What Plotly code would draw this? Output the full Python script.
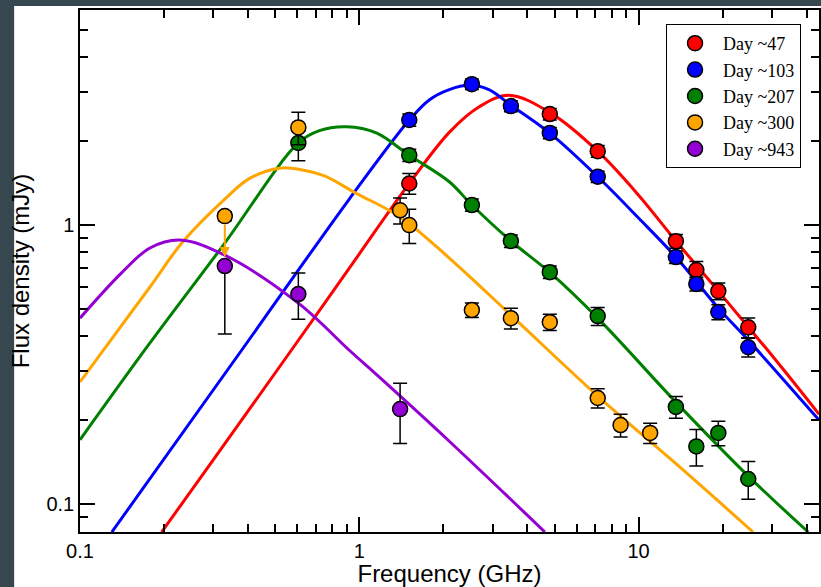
import math
import plotly.graph_objects as go

# ---------------- data ----------------
labels = ["Day ~47", "Day ~103", "Day ~207", "Day ~300", "Day ~943"]
colors = ["#ff0000", "#0000ff", "#008000", "#ffa500", "#9400d3"]

# measured points (GHz, mJy, error mJy)
freq47 = [1.51, 4.81, 7.14, 13.6, 16.1, 19.3, 24.7]
flux47 = [1.41, 2.50, 1.84, 0.876, 0.69, 0.58, 0.43]
err47 = [0.12, 0.12, 0.09, 0.05, 0.05, 0.04, 0.035]

freq103 = [1.51, 2.53, 3.49, 4.81, 7.14, 13.6, 16.1, 19.3, 24.7]
flux103 = [2.38, 3.20, 2.67, 2.14, 1.49, 0.768, 0.615, 0.488, 0.365]
err103 = [0.12, 0.14, 0.12, 0.10, 0.07, 0.04, 0.035, 0.03, 0.028]

freq207 = [0.605, 1.51, 2.53, 3.49, 4.81, 7.14, 13.6, 16.1, 19.3, 24.7]
flux207 = [1.97, 1.78, 1.18, 0.877, 0.678, 0.472, 0.223, 0.161, 0.18, 0.123]
err207 = [0.27, 0.09, 0.06, 0.045, 0.035, 0.035, 0.02, 0.024, 0.018, 0.019]

freq300 = [0.33, 0.605, 1.40, 1.51, 2.53, 3.49, 4.81, 7.14, 8.62, 11.0]
flux300 = [1.077, 2.24, 1.13, 1.0, 0.496, 0.464, 0.449, 0.24, 0.192, 0.18]
err300 = [0.04, 0.30, 0.12, 0.14, 0.03, 0.04, 0.03, 0.019, 0.018, 0.015]

freq943 = [0.33, 0.605, 1.40]
flux943 = [0.713, 0.566, 0.219]
errp943 = [0.0, 0.107, 0.052]
errm943 = [0.306, 0.106, 0.054]

# model curves
cfreq47 = [0.196, 0.30, 0.571, 0.921, 1.51, 2.10, 2.68, 3.43, 4.85, 7.14, 10.0, 13.6, 19.3, 24.7, 30.4, 44.3]
cflux47 = [0.0794, 0.144, 0.356, 0.701, 1.41, 2.15, 2.65, 2.92, 2.52, 1.84, 1.28, 0.877, 0.580, 0.431, 0.336, 0.21]

cfreq103 = [0.130, 0.379, 0.921, 1.51, 1.78, 2.10, 2.47, 2.91, 3.49, 4.8, 7.14, 10.0, 13.6, 19.3, 24.7, 44.3]
cflux103 = [0.0794, 0.356, 1.24, 2.38, 2.81, 3.06, 3.17, 3.06, 2.69, 2.14, 1.49, 1.06, 0.768, 0.504, 0.387, 0.20]

cfreq207 = [0.1, 0.178, 0.324, 0.605, 0.72, 0.90, 1.15, 1.51, 2.10, 2.53, 3.49, 4.8, 7.14, 13.6, 24.7, 40.5]
cflux207 = [0.170, 0.378, 0.841, 1.97, 2.18, 2.25, 2.14, 1.78, 1.43, 1.18, 0.877, 0.678, 0.464, 0.232, 0.126, 0.0794]

cfreq300 = [0.1, 0.178, 0.233, 0.33, 0.405, 0.518, 0.62, 0.75, 0.975, 1.40, 2.10, 3.49, 7.14, 13.9, 25.7]
cflux300 = [0.274, 0.60, 0.87, 1.24, 1.47, 1.60, 1.58, 1.50, 1.30, 1.07, 0.762, 0.476, 0.244, 0.137, 0.0794]

cfreq943 = [0.1, 0.14, 0.178, 0.228, 0.33, 0.605, 0.921, 1.18, 2.10, 4.62]
cflux943 = [0.464, 0.67, 0.828, 0.884, 0.78, 0.525, 0.356, 0.285, 0.168, 0.0794]

# upper-limit style arrow on the Day ~300 point at 0.33 GHz
arrow_freq = 0.33
arrow_from = 1.077
arrow_to = 0.768

x_major = [0.1, 1, 10]
x_major_text = ["0.1", "1", "10"]
x_minor = [0.2, 0.3, 0.4, 0.5, 0.6, 0.7, 0.8, 0.9, 2, 3, 4, 5, 6, 7, 8, 9, 20, 30, 40]
y_major = [0.1, 1]
y_major_text = ["0.1", "1"]
y_minor = [0.08, 0.09, 0.2, 0.3, 0.4, 0.5, 0.6, 0.7, 0.8, 0.9, 2, 3, 4, 5, 6]

# ---------------- figure ----------------
points = [
    (freq47, flux47, err47, err47),
    (freq103, flux103, err103, err103),
    (freq207, flux207, err207, err207),
    (freq300, flux300, err300, err300),
    (freq943, flux943, errp943, errm943),
]
curves = [
    (cfreq47, cflux47), (cfreq103, cflux103), (cfreq207, cflux207),
    (cfreq300, cflux300), (cfreq943, cflux943),
]

fig = go.Figure()
for (cx, cy), col in zip(curves, colors):
    fig.add_trace(go.Scatter(x=cx, y=cy, mode="lines",
                             line=dict(color=col, width=3, shape="spline", smoothing=1.0),
                             showlegend=False, hoverinfo="skip"))

for (px, py, ep, em), col, lab in zip(points, colors, labels):
    fig.add_trace(go.Scatter(
        x=px, y=py, mode="markers", name=lab,
        marker=dict(color=col, size=15, line=dict(color="black", width=1.5)),
        error_y=dict(type="data", symmetric=False, array=ep, arrayminus=em,
                     color="black", thickness=1.5, width=7),
    ))

fig.add_annotation(
    x=math.log10(arrow_freq), y=math.log10(arrow_to),
    ax=math.log10(arrow_freq), ay=math.log10(arrow_from),
    xref="x", yref="y", axref="x", ayref="y",
    text="", showarrow=True, arrowhead=2, arrowsize=1, arrowwidth=2,
    arrowcolor=colors[3], startstandoff=7,
)

axis_common = dict(
    type="log", showline=True, linecolor="black", linewidth=1.5, mirror="ticks",
    ticks="inside", ticklen=15, tickwidth=1.5, tickcolor="black",
    showgrid=False, zeroline=False,
    tickfont=dict(family="Liberation Sans, Arial", size=20, color="black"),
)

fig.update_xaxes(
    **axis_common, range=[-1, 1.646],
    tickmode="array", tickvals=x_major, ticktext=x_major_text,
    minor=dict(ticks="inside", ticklen=8, tickwidth=1.5, tickcolor="black",
               tickmode="array", tickvals=x_minor, showgrid=False),
    title=dict(text="Frequency (GHz)", font=dict(family="Liberation Sans, Arial", size=24, color="black"),
               standoff=2),
)
fig.update_yaxes(
    **axis_common, range=[-1.1, 0.771],
    tickmode="array", tickvals=y_major, ticktext=y_major_text,
    minor=dict(ticks="inside", ticklen=8, tickwidth=1.5, tickcolor="black",
               tickmode="array", tickvals=y_minor, showgrid=False),
    title=dict(text="Flux density (mJy)", font=dict(family="Liberation Sans, Arial", size=24, color="black"),
               standoff=10),
)

fig.update_layout(
    width=821, height=587,
    margin=dict(l=80, r=0, t=10, b=55),
    paper_bgcolor="#37474f", plot_bgcolor="white",
    showlegend=True,
    legend=dict(x=0.9757, xanchor="right", y=0.9732, yanchor="top",
                bgcolor="white", bordercolor="black", borderwidth=1,
                font=dict(family="Liberation Serif, Times New Roman", size=18, color="black"),
                itemwidth=46, tracegroupgap=0),
    shapes=[dict(type="rect", xref="paper", yref="paper",
                 x0=-0.0891, x1=1.01, y0=-0.11, y1=1.0077,
                 fillcolor="white", line=dict(width=0), layer="below")],
)

fig.write_html("out.html")
